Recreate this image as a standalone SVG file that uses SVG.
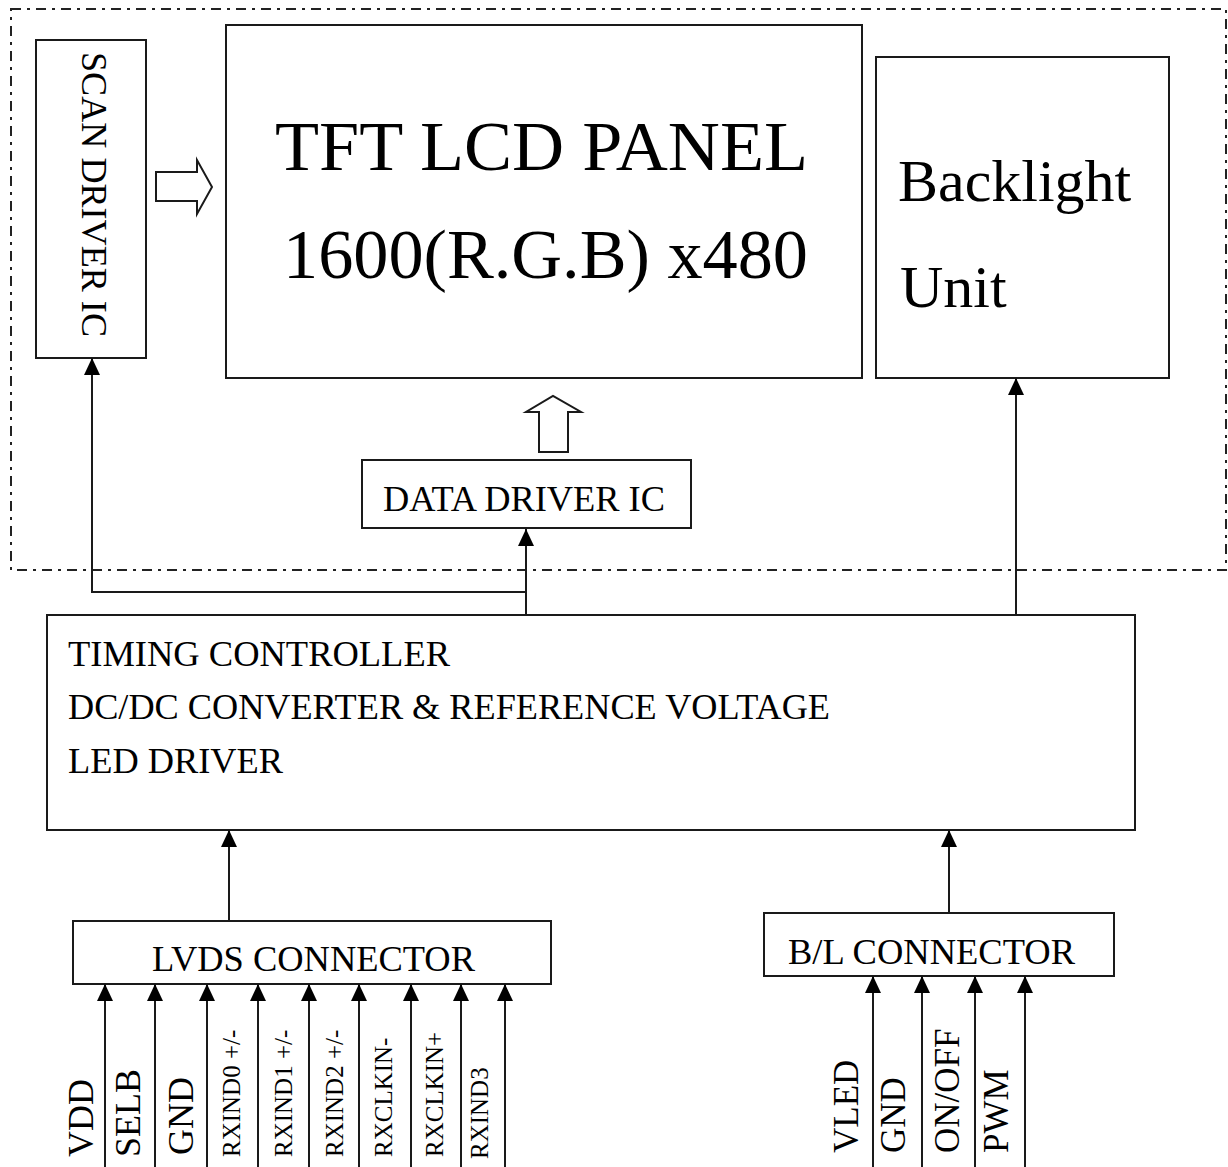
<svg xmlns="http://www.w3.org/2000/svg" width="1228" height="1167" viewBox="0 0 1228 1167">
<style>
  .box { fill: #fff; stroke: #1a1a1a; stroke-width: 2; }
  .line { fill: none; stroke: #1a1a1a; stroke-width: 2; }
  .hollow { fill: #fff; stroke: #1a1a1a; stroke-width: 2; stroke-linejoin: miter; }
  .border { fill: none; stroke: #222; stroke-width: 2; stroke-dasharray: 10 6 3 6; }
  text { font-family: "Liberation Serif", "Times New Roman", serif; fill: #000; }
  .t36 { font-size: 36px; }
  .t35 { font-size: 35px; }
  .t25 { font-size: 25px; }
  .t70 { font-size: 70px; }
  .t60 { font-size: 60px; }
</style>
<defs>
  <marker id="arr" viewBox="0 0 17 16" refX="17" refY="8" markerWidth="17" markerHeight="16" markerUnits="userSpaceOnUse" orient="auto">
    <path d="M0,0 L17,8 L0,16 z" fill="#000"/>
  </marker>
</defs>
<rect width="1228" height="1167" fill="#fff"/>

<g id="module-border">
  <rect class="border" x="11" y="9" width="1215" height="561"/>
</g>

<g id="scan-driver">
  <rect class="box" x="36" y="40" width="110" height="318"/>
  <text class="t35" transform="translate(82,52) rotate(90)" textLength="285" lengthAdjust="spacingAndGlyphs">SCAN DRIVER IC</text>
</g>

<g id="tft-panel">
  <rect class="box" x="226" y="25" width="636" height="353"/>
  <text class="t70" x="275" y="170" textLength="533" lengthAdjust="spacingAndGlyphs">TFT LCD PANEL</text>
  <text class="t70" x="283" y="278" textLength="525" lengthAdjust="spacingAndGlyphs">1600(R.G.B) x480</text>
</g>

<g id="backlight">
  <rect class="box" x="876" y="57" width="293" height="321"/>
  <text class="t60" x="898" y="201">Backlight</text>
  <text class="t60" x="900" y="307">Unit</text>
</g>

<g id="data-driver">
  <rect class="box" x="362" y="460" width="329" height="68"/>
  <text class="t35" x="383" y="511" textLength="282" lengthAdjust="spacingAndGlyphs">DATA DRIVER IC</text>
</g>

<g id="timing-controller">
  <rect class="box" x="47" y="615" width="1088" height="215"/>
  <text class="t36" x="68" y="666" textLength="382" lengthAdjust="spacingAndGlyphs">TIMING CONTROLLER</text>
  <text class="t36" x="68" y="719" textLength="762" lengthAdjust="spacingAndGlyphs">DC/DC CONVERTER &amp; REFERENCE VOLTAGE</text>
  <text class="t36" x="68" y="773" textLength="215" lengthAdjust="spacingAndGlyphs">LED DRIVER</text>
</g>

<g id="lvds-connector">
  <rect class="box" x="73" y="921" width="478" height="63"/>
  <text class="t35" x="152" y="971" textLength="323" lengthAdjust="spacingAndGlyphs">LVDS CONNECTOR</text>
</g>

<g id="bl-connector">
  <rect class="box" x="764" y="913" width="350" height="63"/>
  <text class="t36" x="788" y="964" textLength="287" lengthAdjust="spacingAndGlyphs">B/L CONNECTOR</text>
</g>

<g id="connectors">
  <polygon class="hollow" points="156,172 197,172 197,160 212,187 197,214 197,201 156,201"/>
  <polygon class="hollow" points="539,452 539,412 526,412 553,396 581,412 568,412 568,452"/>
  <path class="line" d="M526,615 L526,592 L92,592 L92,358" marker-end="url(#arr)"/>
  <path class="line" d="M526,592 L526,529" marker-end="url(#arr)"/>
  <path class="line" d="M1016,615 L1016,378" marker-end="url(#arr)"/>
  <path class="line" d="M229,921 L229,830" marker-end="url(#arr)"/>
  <path class="line" d="M949,913 L949,830" marker-end="url(#arr)"/>
  <path class="line" d="M105,1167 L105,984" marker-end="url(#arr)"/>
  <path class="line" d="M155,1167 L155,984" marker-end="url(#arr)"/>
  <path class="line" d="M207,1167 L207,984" marker-end="url(#arr)"/>
  <path class="line" d="M258,1167 L258,984" marker-end="url(#arr)"/>
  <path class="line" d="M309,1167 L309,984" marker-end="url(#arr)"/>
  <path class="line" d="M359,1167 L359,984" marker-end="url(#arr)"/>
  <path class="line" d="M411,1167 L411,984" marker-end="url(#arr)"/>
  <path class="line" d="M461,1167 L461,984" marker-end="url(#arr)"/>
  <path class="line" d="M505,1167 L505,984" marker-end="url(#arr)"/>
  <path class="line" d="M873,1167 L873,976" marker-end="url(#arr)"/>
  <path class="line" d="M922,1167 L922,976" marker-end="url(#arr)"/>
  <path class="line" d="M975,1167 L975,976" marker-end="url(#arr)"/>
  <path class="line" d="M1025,1167 L1025,976" marker-end="url(#arr)"/>
</g>

<g id="lvds-labels">
  <text class="t36" transform="translate(93,1157) rotate(-90)">VDD</text>
  <text class="t36" transform="translate(140,1157) rotate(-90)">SELB</text>
  <text class="t36" transform="translate(193,1155) rotate(-90)">GND</text>
  <text class="t25" transform="translate(240,1157) rotate(-90)">RXIND0 +/-</text>
  <text class="t25" transform="translate(292,1157) rotate(-90)">RXIND1 +/-</text>
  <text class="t25" transform="translate(343,1157) rotate(-90)">RXIND2 +/-</text>
  <text class="t25" transform="translate(392,1157) rotate(-90)">RXCLKIN-</text>
  <text class="t25" transform="translate(443,1157) rotate(-90)">RXCLKIN+</text>
  <text class="t25" transform="translate(488,1159) rotate(-90)">RXIND3</text>
</g>

<g id="bl-labels">
  <text class="t35" transform="translate(858,1153) rotate(-90)">VLED</text>
  <text class="t35" transform="translate(905,1153) rotate(-90)">GND</text>
  <text class="t35" transform="translate(959,1153) rotate(-90)">ON/OFF</text>
  <text class="t35" transform="translate(1008,1153) rotate(-90)">PWM</text>
</g>
</svg>
